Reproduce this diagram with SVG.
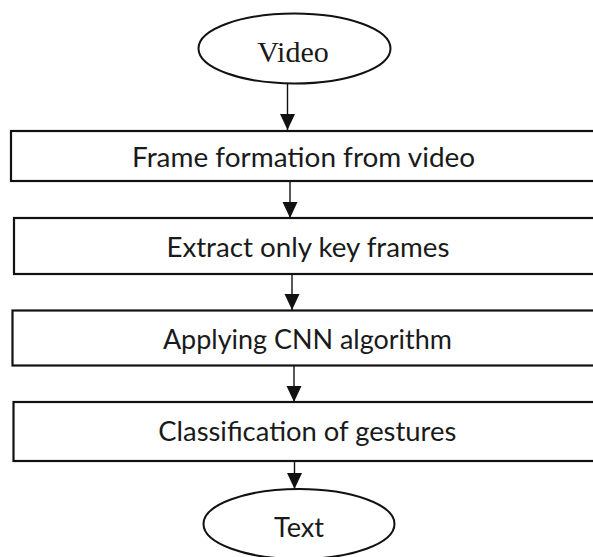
<svg xmlns="http://www.w3.org/2000/svg" width="593" height="557" viewBox="0 0 593 557">
<style>
.box{fill:#fff;stroke:#111;stroke-width:2.2}
.oval{fill:#fff;stroke:#111;stroke-width:2}
.lbl{font-family:Lato,"Open Sans",sans-serif;font-size:27px;fill:#1a1a1a;text-anchor:middle}
.ser{font-family:"Liberation Serif","Times New Roman",serif;font-size:30px;fill:#1a1a1a;text-anchor:middle}
.edge{stroke:#111;stroke-width:1.4;fill:none;marker-end:url(#ah)}
</style>
<defs>
<marker id="ah" markerUnits="userSpaceOnUse" markerWidth="16" markerHeight="16" refX="16" refY="7.5" orient="auto">
<path d="M0,0 L16,7.5 L0,15 Z" fill="#111"/>
</marker>
</defs>
<rect width="593" height="557" fill="#fff"/>
<g id="connectors">
<line class="edge" x1="287.5" y1="84" x2="287.5" y2="130"/>
<line class="edge" x1="290" y1="181" x2="290" y2="218"/>
<line class="edge" x1="292" y1="274" x2="292" y2="310"/>
<line class="edge" x1="294" y1="365" x2="294" y2="402"/>
<line class="edge" x1="294.5" y1="461" x2="294.5" y2="489"/>
</g>
<g id="video">
<ellipse class="oval" cx="294.5" cy="48.5" rx="96" ry="35"/>
<text class="ser" x="293" y="61.5">Video</text>
</g>
<g id="frame-formation">
<rect class="box" x="11" y="131" width="600" height="50"/>
<text class="lbl" x="303.6" y="166.5" textLength="343" lengthAdjust="spacingAndGlyphs">Frame formation from video</text>
</g>
<g id="extract-key-frames">
<rect class="box" x="14" y="218" width="600" height="56"/>
<text class="lbl" x="307.9" y="257" textLength="283" lengthAdjust="spacingAndGlyphs">Extract only key frames</text>
</g>
<g id="apply-cnn">
<rect class="box" x="12.5" y="310.5" width="600" height="55"/>
<text class="lbl" x="307.4" y="349.3" textLength="289" lengthAdjust="spacingAndGlyphs">Applying CNN algorithm</text>
</g>
<g id="classification">
<rect class="box" x="13.5" y="402" width="600" height="59"/>
<text class="lbl" x="307.3" y="440.7" textLength="298" lengthAdjust="spacingAndGlyphs">Classification of gestures</text>
</g>
<g id="text-output">
<ellipse class="oval" cx="299" cy="524" rx="95.5" ry="35"/>
<text class="lbl" x="299" y="537.3" textLength="50" lengthAdjust="spacingAndGlyphs">Text</text>
</g>
</svg>
